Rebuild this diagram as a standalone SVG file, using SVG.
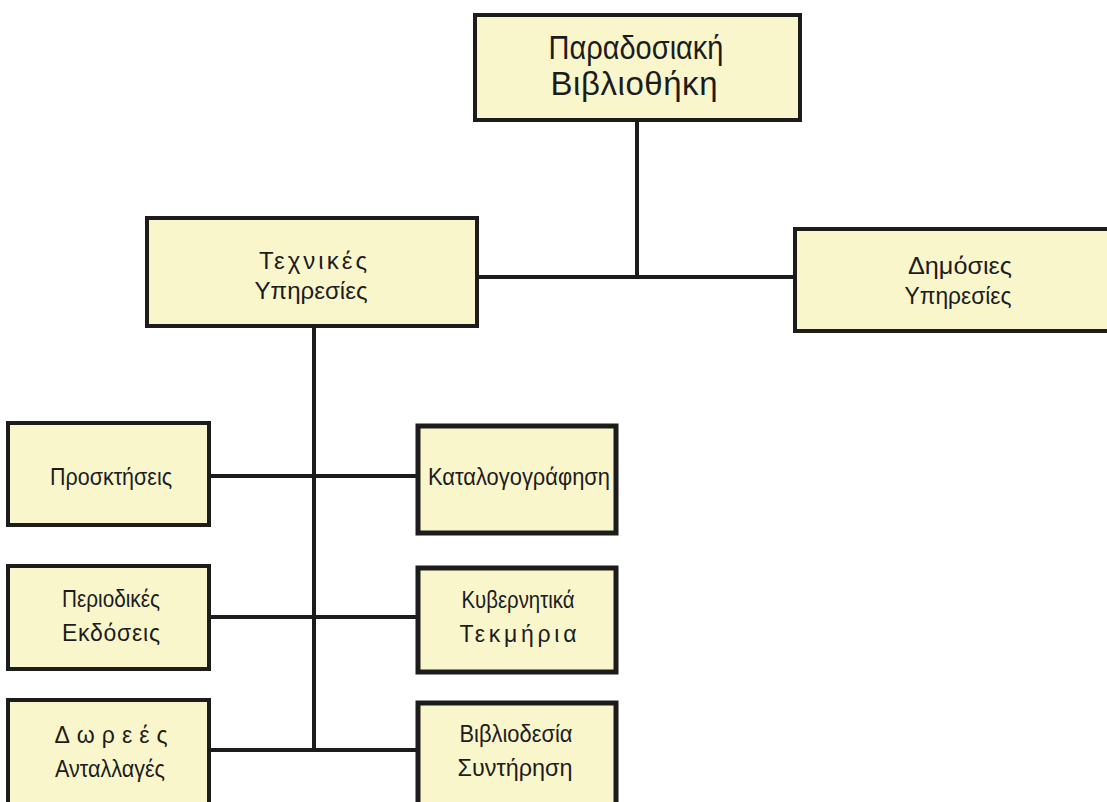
<svg xmlns="http://www.w3.org/2000/svg" width="1107" height="802" viewBox="0 0 1107 802">
<style>
.box{fill:#faf6cc;stroke:#1c1c1c;stroke-width:4}
.thick{stroke-width:5}
.t{font-family:"Liberation Sans",Arial,sans-serif;fill:#1c1c1c;text-anchor:middle}
.big{font-size:33px}
.mid{font-size:24px}
.sm{font-size:23px}
.ln{stroke:#1c1c1c;stroke-width:4;fill:none}
</style>
<rect width="1107" height="802" fill="#ffffff"/>
<g id="connectors">
<line class="ln" x1="637" y1="120" x2="637" y2="277"/>
<line class="ln" x1="477" y1="277" x2="795" y2="277"/>
<line class="ln" x1="314" y1="326" x2="314" y2="750"/>
<line class="ln" x1="209" y1="476" x2="418" y2="476"/>
<line class="ln" x1="209" y1="617" x2="418" y2="617"/>
<line class="ln" x1="209" y1="750" x2="418" y2="750"/>
</g>
<g id="n-library">
<rect class="box" x="475" y="15" width="325" height="105"/>
<text class="t big" x="636" y="59" textLength="175" lengthAdjust="spacingAndGlyphs">Παραδοσιακή</text>
<text class="t big" x="634" y="95" textLength="167" lengthAdjust="spacing">Βιβλιοθήκη</text>
</g>
<g id="n-technical">
<rect class="box" x="147" y="218" width="330" height="108"/>
<text class="t mid" x="313" y="269" textLength="108" lengthAdjust="spacing">Τεχνικές</text>
<text class="t mid" x="311" y="299" textLength="113" lengthAdjust="spacingAndGlyphs">Υπηρεσίες</text>
</g>
<g id="n-public">
<rect class="box" x="795" y="229" width="330" height="102"/>
<text class="t mid" x="960" y="274" textLength="104" lengthAdjust="spacingAndGlyphs">Δημόσιες</text>
<text class="t mid" x="958" y="304" textLength="107" lengthAdjust="spacingAndGlyphs">Υπηρεσίες</text>
</g>
<g id="n-acquisitions">
<rect class="box" x="8" y="423" width="201" height="102"/>
<text class="t sm" x="111" y="485" textLength="122" lengthAdjust="spacingAndGlyphs">Προσκτήσεις</text>
</g>
<g id="n-cataloguing">
<rect class="box thick" x="418" y="426" width="198" height="107"/>
<text class="t sm" x="519" y="485" textLength="182" lengthAdjust="spacingAndGlyphs">Καταλογογράφηση</text>
</g>
<g id="n-periodicals">
<rect class="box" x="8" y="566" width="201" height="103"/>
<text class="t sm" x="111" y="607" textLength="98" lengthAdjust="spacingAndGlyphs">Περιοδικές</text>
<text class="t sm" x="111" y="641" textLength="98" lengthAdjust="spacing">Εκδόσεις</text>
</g>
<g id="n-government">
<rect class="box thick" x="418" y="568" width="198" height="104"/>
<text class="t sm" x="518" y="608" textLength="113" lengthAdjust="spacingAndGlyphs">Κυβερνητικά</text>
<text class="t sm" x="518" y="642" textLength="117" lengthAdjust="spacing">Τεκμήρια</text>
</g>
<g id="n-donations">
<rect class="box" x="8" y="700" width="201" height="106"/>
<text class="t sm" x="111" y="743" textLength="113" lengthAdjust="spacing">Δωρεές</text>
<text class="t sm" x="110" y="777" textLength="110" lengthAdjust="spacingAndGlyphs">Ανταλλαγές</text>
</g>
<g id="n-binding">
<rect class="box thick" x="418" y="703" width="198" height="103"/>
<text class="t sm" x="516" y="742" textLength="113" lengthAdjust="spacingAndGlyphs">Βιβλιοδεσία</text>
<text class="t sm" x="515" y="776" textLength="115" lengthAdjust="spacingAndGlyphs">Συντήρηση</text>
</g>
</svg>
